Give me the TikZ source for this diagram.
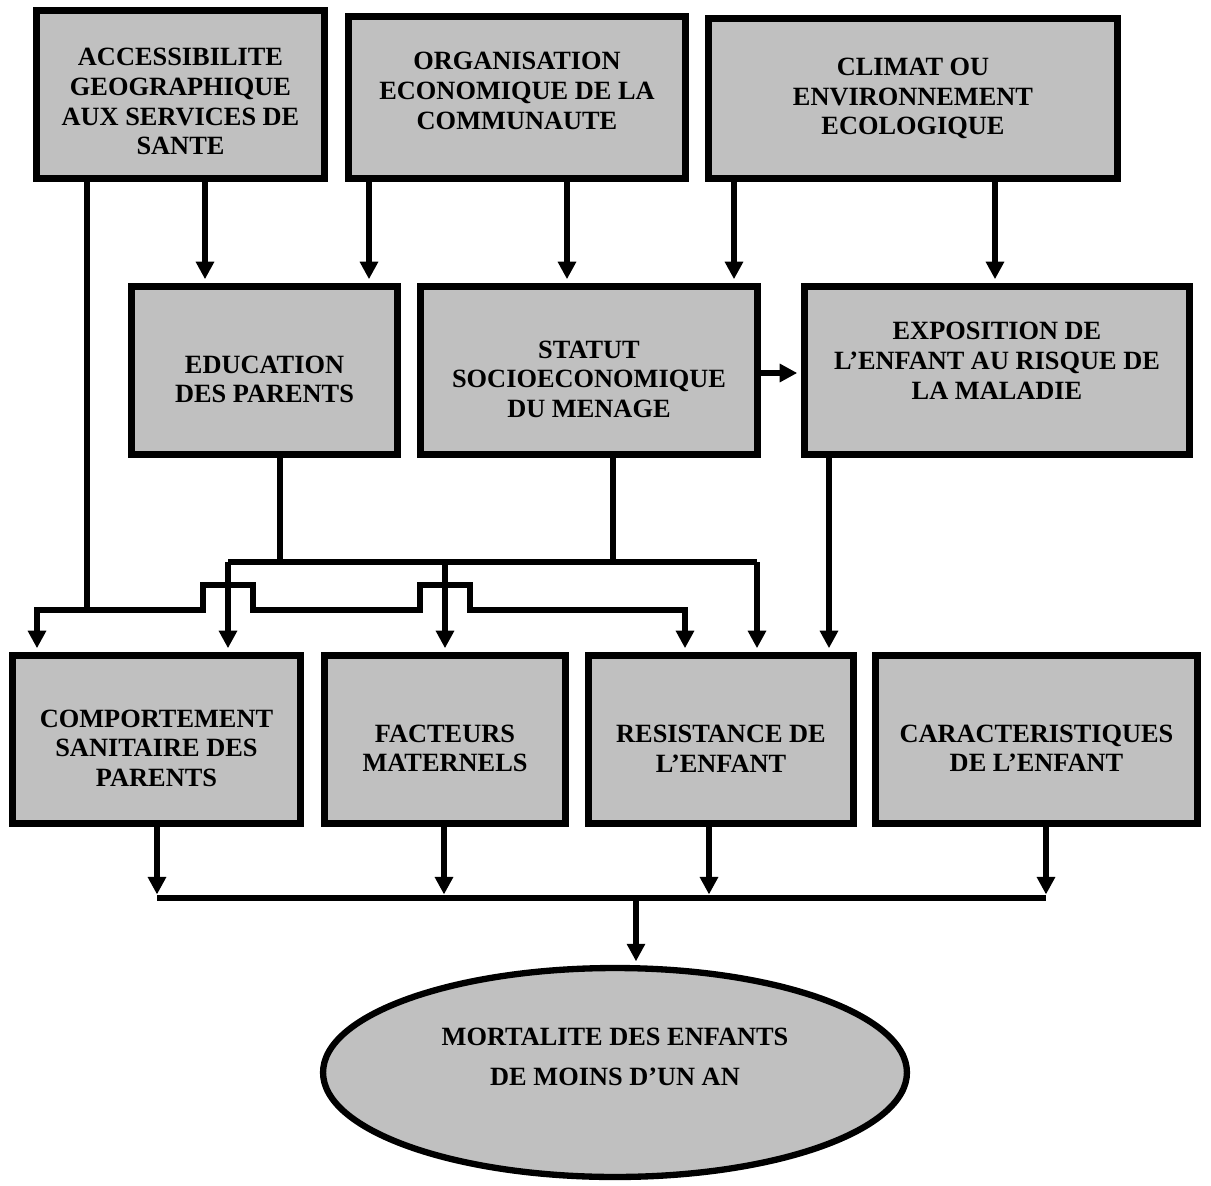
\documentclass[tikz,border=0pt]{standalone}
\usepackage{fontspec}
\setmainfont{Liberation Serif}
\usetikzlibrary{arrows.meta}
\usetikzlibrary{shapes.geometric}

\definecolor{boxgray}{RGB}{192,192,192}
% struts that move the text of a box down (first line) or up (last line)
\newcommand{\dropstrut}[1][20pt]{\rule{0pt}{#1}}
\newcommand{\liftstrut}[1][9pt]{\rule[-#1]{0pt}{0pt}}
\tikzset{
  box/.style={draw, line width=4.3pt, fill=boxgray, align=center, inner sep=0pt,
    font=\bfseries\fontsize{15}{17}\selectfont},
  link/.style={line width=3.1pt},
  arr/.style={link, ->, shorten >=2pt}
}

\begin{document}
\begin{tikzpicture}[x=0.02cm, y=-0.02cm, >={Triangle[length=10pt,width=10pt]}]
        \useasboundingbox (0,0) rectangle (1211,1186);
        % top row
        \node[box, minimum width=5.76cm, minimum height=3.36cm] (acces) at (180.5,94.5) {\dropstrut[18pt]ACCESSIBILITE\\GEOGRAPHIQUE\\AUX SERVICES DE\\SANTE};
        \node[box, minimum width=6.74cm, minimum height=3.24cm] (orga) at (517,97.5) {ORGANISATION\\ECONOMIQUE DE LA\\COMMUNAUTE\liftstrut[8pt]};
        \node[box, minimum width=8.18cm, minimum height=3.20cm] (climat) at (913,98.5) {CLIMAT OU\\ENVIRONNEMENT\\ECOLOGIQUE};
        % middle row
        \node[box, minimum width=5.32cm, minimum height=3.36cm] (educ) at (264.5,370.5) {\dropstrut EDUCATION\\DES PARENTS};
        \node[box, minimum width=6.74cm, minimum height=3.36cm] (statut) at (589,370.5) {\dropstrut STATUT\\SOCIOECONOMIQUE\\DU MENAGE};
        \node[box, minimum width=7.70cm, minimum height=3.36cm] (expo) at (997,370.5) {EXPOSITION DE\\L'ENFANT AU RISQUE DE\\LA MALADIE\liftstrut[11pt]};
        % bottom row
        \node[box, minimum width=5.76cm, minimum height=3.36cm] (comport) at (156.5,739.5) {\dropstrut COMPORTEMENT\\SANITAIRE DES\\PARENTS};
        \node[box, minimum width=4.82cm, minimum height=3.36cm] (facteurs) at (445,739.5) {\dropstrut FACTEURS\\MATERNELS};
        \node[box, minimum width=5.30cm, minimum height=3.36cm] (resist) at (721,739.5) {\dropstrut RESISTANCE DE\\L'ENFANT};
        \node[box, minimum width=6.44cm, minimum height=3.36cm] (caract) at (1036.5,739.5) {\dropstrut CARACTERISTIQUES\\DE L'ENFANT};
        % outcome
        \node[box, ellipse, line width=3.6pt, font=\bfseries\fontsize{15}{22.5}\selectfont, minimum width=11.68cm, minimum height=4.18cm] (mort) at (615,1072.5) {MORTALITE DES ENFANTS\\DE MOINS D'UN AN\liftstrut[18pt]};

        % junctions
        \coordinate (jacc) at (87,610);
        \coordinate (jmid) at (228,562);
        \coordinate (jbot) at (636,898);

        % top row to middle row
        \draw[arr] (acces.south -| 205,0) -- (educ.north -| 205,0);
        \draw[arr] (orga.south -| 369,0) -- (educ.north -| 369,0);
        \draw[arr] (orga.south -| 567,0) -- (statut.north -| 567,0);
        \draw[arr] (climat.south -| 734,0) -- (statut.north -| 734,0);
        \draw[arr] (climat.south -| 995,0) -- (expo.north -| 995,0);
        \draw[arr] (statut.east |- 0,373) -- (expo.west |- 0,373);

        % accessibilite down to the bottom row, hopping over the other lines
        \draw[link] (acces.south -| jacc) -- (jacc);
        \draw[arr] (jacc) -- (37,610) -- (comport.north -| 37,0);
        \draw[arr] (jacc) -- (203,610) -- (203,585) -- (253,585) -- (253,610)
                -- (420,610) -- (420,585) -- (470,585) -- (470,610)
                -- (685,610) -- (resist.north -| 685,0);

        % education and statut to the bottom row
        \draw[link] (educ.south -| 280,0) -- (280,562);
        \draw[link] (statut.south -| 613,0) -- (613,562);
        \draw[link] (jmid) -- (757,562);
        \draw[arr] (jmid) -- (comport.north -| jmid);
        \draw[arr] (445,562) -- (facteurs.north -| 445,0);
        \draw[arr] (757,562) -- (resist.north -| 757,0);
        \draw[arr] (expo.south -| 829,0) -- (resist.north -| 829,0);

        % bottom row to the outcome
        \draw[link] (157,898) -- (1046,898);
        \draw[arr] (comport.south -| 157,0) -- (157,898);
        \draw[arr] (facteurs.south -| 444,0) -- (444,898);
        \draw[arr] (resist.south -| 709,0) -- (709,898);
        \draw[arr] (caract.south -| 1046,0) -- (1046,898);
        \draw[arr] (jbot) -- (mort.north -| jbot);
    \end{tikzpicture}
\end{document}
